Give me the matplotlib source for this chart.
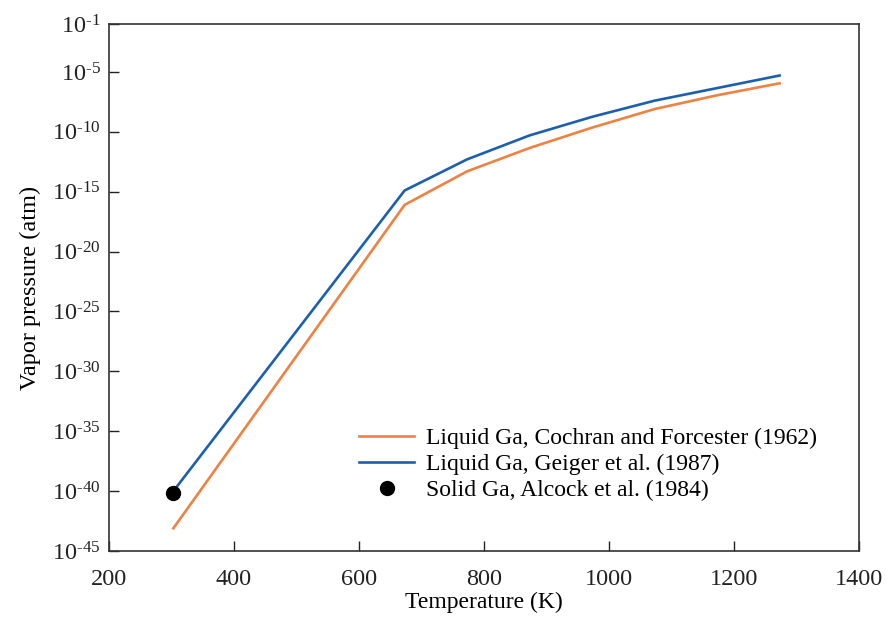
import numpy as np
import matplotlib
matplotlib.use("Agg")
import matplotlib.pyplot as plt
from matplotlib.ticker import FixedLocator, FixedFormatter

# ------------------------------------------------------------
# Vapor pressure data for gallium (log10 of p in atm)
# ------------------------------------------------------------
T_cochran = [303, 673, 773, 873, 973, 1073, 1173, 1273]
logp_cochran = [-43.1, -16.1, -13.3, -11.35, -9.65, -8.1, -6.95, -5.95]

T_geiger = [303, 673, 773, 873, 973, 1073, 1173, 1273]
logp_geiger = [-40.0, -14.9, -12.3, -10.3, -8.75, -7.4, -6.35, -5.3]

T_alcock = [302]
logp_alcock = [-40.15]

ytick_exp = [-45, -40, -35, -30, -25, -20, -15, -10, -5, -1]
xticks = [200, 400, 600, 800, 1000, 1200, 1400]

plt.rcParams["font.family"] = ["Liberation Serif", "DejaVu Serif"]
plt.rcParams["mathtext.fontset"] = "custom"
plt.rcParams["mathtext.rm"] = "Liberation Serif"
plt.rcParams["mathtext.it"] = "Liberation Serif:italic"

fig = plt.figure(figsize=(8.88, 6.41), dpi=100)
ax = fig.add_axes([109 / 888, 1 - 551 / 641, 750 / 888, 527 / 641])

ax.plot(T_cochran, 10.0 ** np.array(logp_cochran), color="#EE8243", lw=1.9,
        label="Liquid Ga, Cochran and Forcester (1962)")
ax.plot(T_geiger, 10.0 ** np.array(logp_geiger), color="#1D5FAE", lw=1.9,
        label="Liquid Ga, Geiger et al. (1987)")
ax.plot(T_alcock, 10.0 ** np.array(logp_alcock), "o", color="black", ms=10,
        label="Solid Ga, Alcock et al. (1984)")

ax.set_yscale("log")
ax.set_xlim(200, 1400)
ax.set_ylim(1e-45, 1e-1)
# superscripts keep a plain hyphen, not a minus sign
ax.yaxis.set_major_locator(FixedLocator([10.0 ** e for e in ytick_exp]))
ax.yaxis.set_major_formatter(FixedFormatter([rf"$10^{{\text{{{e}}}}}$" for e in ytick_exp]))
ax.yaxis.set_minor_locator(FixedLocator([]))
ax.set_xticks(xticks)

ax.tick_params(direction="in", length=7, width=1.0, labelsize=17.5, colors="#222222",
               top=False, right=False)
ax.tick_params(axis="x", pad=13)
ax.tick_params(axis="y", pad=6)
for s in ax.spines.values():
    s.set_linewidth(1.2)
    s.set_color("#333333")

ax.set_xlabel("Temperature (K)", fontsize=17, labelpad=1)
ax.set_ylabel("Vapor pressure (atm)", fontsize=17.5, labelpad=8)

ax.legend(loc="upper left", bbox_to_anchor=(0.311, 0.265), frameon=False,
          fontsize=17, handlelength=2.35, handletextpad=0.5, labelspacing=0.18,
          borderpad=0.2)

fig.savefig("out.png", dpi=100)
